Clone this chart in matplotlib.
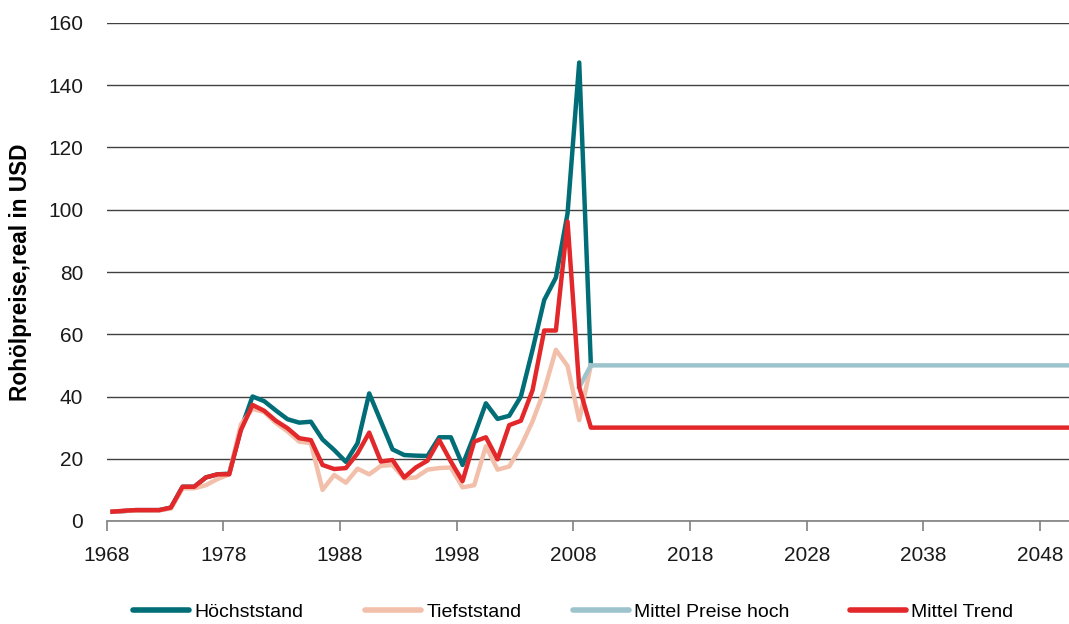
import matplotlib
matplotlib.use("Agg")
import matplotlib.pyplot as plt

plt.rcParams['font.family'] = ['Liberation Sans', 'DejaVu Sans']

# ---- data ----
years_hist = list(range(1968, 2010))
hoechststand = [3.0, 3.2, 3.5, 3.5, 3.5, 4.3, 11.0, 11.0, 14.0, 15.0,
                15.2, 29.5, 40.0, 38.5, 35.5, 32.7, 31.6, 31.9, 26.2, 22.8,
                19.0, 25.0, 41.0, 32.0, 23.0, 21.2, 21.0, 20.9, 26.9, 26.9,
                18.0, 27.5, 37.8, 32.8, 33.8, 40.0, 55.0, 71.0, 78.2, 98.8,
                147.3, 50.0]
tiefststand = [3.0, 3.2, 3.4, 3.4, 3.4, 4.0, 10.5, 10.5, 11.5, 13.5,
               15.0, 31.0, 36.0, 35.0, 31.5, 28.8, 25.5, 25.0, 10.0, 14.8,
               12.3, 16.8, 15.0, 17.7, 18.0, 13.7, 14.0, 16.5, 17.0, 17.2,
               10.8, 11.5, 24.0, 16.5, 17.5, 24.0, 32.0, 42.0, 55.0, 49.8,
               32.4, 50.0]

years_hoch = list(range(2008, 2051))
mittel_preise_hoch = [43.0,
                      50, 50, 50, 50, 50, 50, 50, 50, 50, 50,
                      50, 50, 50, 50, 50, 50, 50, 50, 50, 50,
                      50, 50, 50, 50, 50, 50, 50, 50, 50, 50,
                      50, 50, 50, 50, 50, 50, 50, 50, 50, 50,
                      50, 50]

years_trend = list(range(1968, 2051))
mittel_trend = [3.0, 3.3, 3.5, 3.5, 3.5, 4.3, 11.0, 11.0, 14.0, 15.0,
                15.0, 29.2, 37.3, 35.4, 32.2, 29.8, 26.6, 26.0, 18.0, 16.7,
                17.0, 21.7, 28.4, 19.1, 19.6, 14.0, 17.2, 19.4, 26.0, 19.1,
                12.8, 25.5, 26.9, 19.8, 30.8, 32.2, 42.0, 61.2, 61.2, 96.2,
                43.0, 30.0,
                30, 30, 30, 30, 30, 30, 30, 30, 30, 30,
                30, 30, 30, 30, 30, 30, 30, 30, 30, 30,
                30, 30, 30, 30, 30, 30, 30, 30, 30, 30,
                30, 30, 30, 30, 30, 30, 30, 30, 30, 30,
                30]

tick_labels = ["1968", "1978", "1988", "1998", "2008", "2018", "2028", "2038", "2048"]
y_ticks = [0, 20, 40, 60, 80, 100, 120, 140, 160]

series_names = ["Höchststand", "Tiefststand", "Mittel Preise hoch", "Mittel Trend"]
colors = ["#006d77", "#f2bfaa", "#9dc3cc", "#e2282a"]

# ---- figure ----
W, H = 1069, 624
fig = plt.figure(figsize=(W / 100, H / 100), dpi=100)
left_px, right_px, top_px, bottom_px = 106.7, 1069, 23, 521
ax = fig.add_axes([left_px / W, 1 - bottom_px / H,
                   (right_px - left_px) / W, (bottom_px - top_px) / H])

lw = 3.2
handles = []
handles += ax.plot(years_hist, hoechststand, color=colors[0], lw=lw, label=series_names[0],
                   solid_joinstyle='round', zorder=3)
handles += ax.plot(years_hist, tiefststand, color=colors[1], lw=lw, label=series_names[1],
                   solid_joinstyle='round', zorder=3)
handles += ax.plot(years_hoch, mittel_preise_hoch, color=colors[2], lw=lw, label=series_names[2],
                   solid_joinstyle='round', zorder=3)
handles += ax.plot(years_trend, mittel_trend, color=colors[3], lw=lw, label=series_names[3],
                   solid_joinstyle='round', zorder=4)

ax.set_xlim(1967.5, 1967.5 + (right_px - left_px) / 11.667)
ax.set_ylim(0, 160)

tick_pos = [int(t) - 0.5 for t in tick_labels]
ax.set_xticks(tick_pos)
ax.set_xticklabels(tick_labels)
ax.set_yticks(y_ticks)
ax.set_yticklabels([str(v) for v in y_ticks])

ax.grid(axis='y', color='#404040', lw=1.0, zorder=1)
ax.set_axisbelow(True)
for s in ['top', 'right', 'left']:
    ax.spines[s].set_visible(False)
ax.spines['bottom'].set_color('#808080')
ax.spines['bottom'].set_linewidth(1.2)

fs = 15
ax.tick_params(axis='x', direction='out', length=7, width=1.2, color='#808080',
               labelsize=fs, pad=11, labelcolor='#1a1a1a')
ax.tick_params(axis='y', length=0, labelsize=fs, pad=17, labelcolor='#1a1a1a')

ax.set_ylabel("Rohölpreise,real in USD", fontsize=16.3, fontweight='bold')
ax.yaxis.set_label_coords(-(left_px - 32) / (right_px - left_px), 0.5)

# one legend entry per series, placed like the reference
legend_x_px = [133, 365, 573, 850]
for h, name, xp in zip(handles, series_names, legend_x_px):
    leg = fig.legend([h], [name], loc='center left', bbox_to_anchor=(xp / W, 1 - 612 / H),
                     frameon=False, fontsize=14, handlelength=2.9, handletextpad=0.25,
                     borderaxespad=0, borderpad=0)
    for line in leg.get_lines():
        line.set_linewidth(4)
        line.set_solid_capstyle('round')

fig.savefig("out.png", dpi=100)
